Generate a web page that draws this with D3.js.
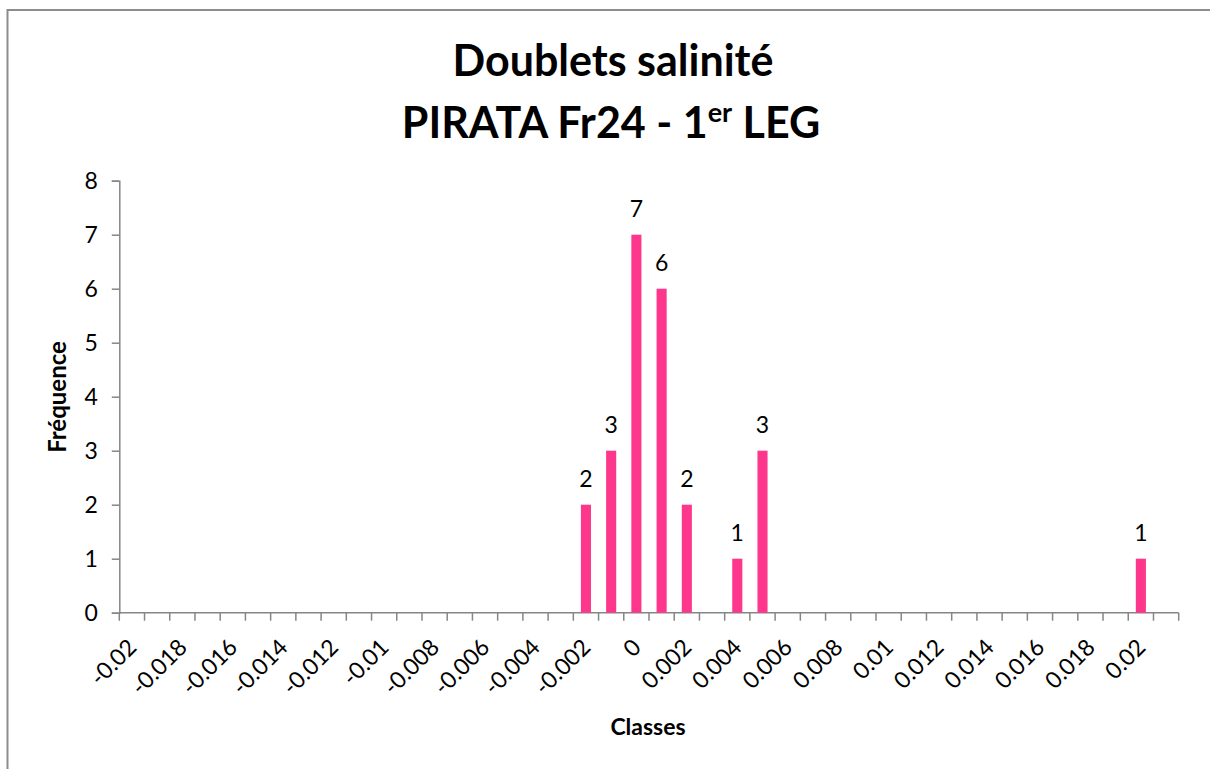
<!DOCTYPE html>
<html>
<head>
<meta charset="utf-8">
<script src="https://cdn.jsdelivr.net/npm/d3@7"></script>
<style>
  body { margin: 0; background: #fff; }
  text { font-family: Lato, "Open Sans", sans-serif; fill: #000; }
</style>
</head>
<body>
<div id="chart"></div>
<script>
// histogram classes (last one is Excel's "Plus" bin, its label is skipped)
const classes = ['-0.02', '-0.019', '-0.018', '-0.017', '-0.016', '-0.015', '-0.014', '-0.013', '-0.012', '-0.011',
  '-0.01', '-0.009', '-0.008', '-0.007', '-0.006', '-0.005', '-0.004', '-0.003', '-0.002', '-0.001',
  '0', '0.001', '0.002', '0.003', '0.004', '0.005', '0.006', '0.007', '0.008', '0.009',
  '0.01', '0.011', '0.012', '0.013', '0.014', '0.015', '0.016', '0.017', '0.018', '0.019',
  '0.02', 'Plus'];
const frequences = [0, 0, 0, 0, 0, 0, 0, 0, 0, 0,
  0, 0, 0, 0, 0, 0, 0, 0, 2, 3,
  7, 6, 2, 0, 1, 3, 0, 0, 0, 0,
  0, 0, 0, 0, 0, 0, 0, 0, 0, 0,
  1, 0];
const yTicks = [0, 1, 2, 3, 4, 5, 6, 7, 8];

const width = 1210, height = 769;
const plotLeft = 119.3, plotRight = 1178.7, plotTop = 180.7, plotBottom = 612.7;

let svg = d3.select('#chart').append('svg')
  .attr('width', width)
  .attr('height', height);

// outer chart border
svg.append('rect')
  .attr('x', 7.5).attr('y', 10)
  .attr('width', width + 20).attr('height', height + 20)
  .attr('fill', 'none')
  .attr('stroke', '#8c8c8c')
  .attr('stroke-width', 2);

let x = d3.scaleBand().domain(classes).range([plotLeft, plotRight]).padding(0);
let y = d3.scaleLinear().domain([0, 8]).range([plotBottom, plotTop]);

const axisColor = '#868686';

// y axis
let yAxis = svg.append('g')
  .attr('transform', `translate(${plotLeft},0)`)
  .call(d3.axisLeft(y).tickValues(yTicks).tickSize(7.5).tickPadding(14));
yAxis.select('.domain').attr('stroke', axisColor).attr('stroke-width', 1.5);
yAxis.selectAll('.tick line').attr('stroke', axisColor).attr('stroke-width', 1.5);
yAxis.selectAll('.tick text')
  .attr('font-size', 23)
  .attr('font-family', 'Lato')
  .attr('fill', '#000');

// x axis: ticks on the bin boundaries
let xg = svg.append('g');
xg.append('line')
  .attr('x1', plotLeft).attr('x2', plotRight)
  .attr('y1', plotBottom).attr('y2', plotBottom)
  .attr('stroke', axisColor).attr('stroke-width', 1.5);
xg.selectAll('line.tk')
  .data(d3.range(classes.length + 1))
  .join('line')
  .attr('class', 'tk')
  .attr('x1', i => plotLeft + i * x.step())
  .attr('x2', i => plotLeft + i * x.step())
  .attr('y1', plotBottom).attr('y2', plotBottom + 8)
  .attr('stroke', axisColor).attr('stroke-width', 1.5);

xg.selectAll('text')
  .data(classes.filter((c, i) => i % 2 === 0))
  .join('text')
  .attr('transform', d => `translate(${x(d) + x.bandwidth() / 2 + 6},${plotBottom + 36}) rotate(-45)`)
  .attr('text-anchor', 'end')
  .attr('font-size', 23)
  .text(d => d);

// bars
const barW = x.bandwidth() / 2.5;
const data = classes.map((c, i) => ({ c: c, v: frequences[i] }));

svg.selectAll('rect.bar')
  .data(data.filter(d => d.v > 0))
  .join('rect')
  .attr('class', 'bar')
  .attr('x', d => x(d.c) + (x.bandwidth() - barW) / 2)
  .attr('y', d => y(d.v))
  .attr('width', barW)
  .attr('height', d => y(0) - y(d.v))
  .attr('fill', '#fd378b');

svg.selectAll('text.lbl')
  .data(data.filter(d => d.v > 0))
  .join('text')
  .attr('class', 'lbl')
  .attr('x', d => x(d.c) + x.bandwidth() / 2)
  .attr('y', d => y(d.v) - 18)
  .attr('text-anchor', 'middle')
  .attr('font-size', 23)
  .text(d => d.v);

// titles
let title = svg.append('text')
  .attr('text-anchor', 'middle')
  .attr('font-weight', 'bold')
  .attr('font-size', 43);
title.append('tspan').attr('x', 613).attr('y', 76).text('Doublets salinité');
let t2 = title.append('tspan').attr('x', 611).attr('y', 138);
t2.append('tspan').text('PIRATA Fr24 - 1');
t2.append('tspan').attr('font-size', 27).attr('dy', -16).text('er');
t2.append('tspan').attr('dy', 16).text(' LEG');

svg.append('text')
  .attr('x', 648).attr('y', 735)
  .attr('text-anchor', 'middle')
  .attr('font-weight', 'bold')
  .attr('font-size', 23)
  .text('Classes');

svg.append('text')
  .attr('transform', 'translate(66,397) rotate(-90)')
  .attr('text-anchor', 'middle')
  .attr('font-weight', 'bold')
  .attr('font-size', 24)
  .text('Fréquence');
</script>
</body>
</html>
